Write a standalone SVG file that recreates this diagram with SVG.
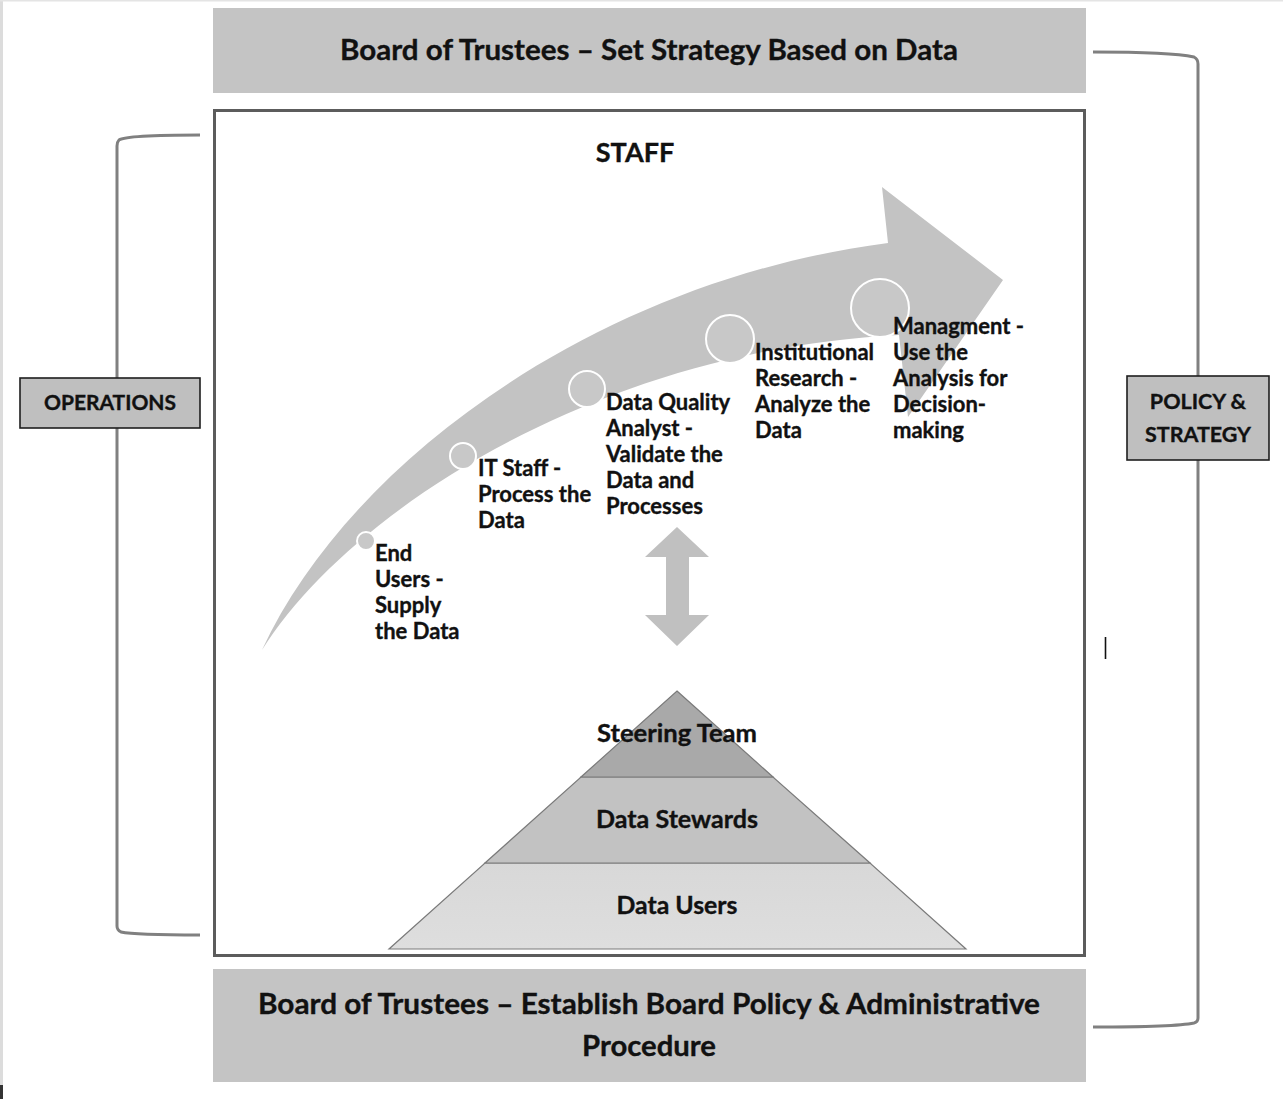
<svg xmlns="http://www.w3.org/2000/svg" width="1283" height="1099" viewBox="0 0 1283 1099">
<style>
  .t { font-family: Lato, "Open Sans", "Liberation Sans", sans-serif; font-weight: 700; fill: #111; stroke: #111; stroke-width: 0.35; }
  .band { fill: #c4c4c4; }
  .lbl { fill: #bfbfbf; stroke: #1e1e1e; stroke-width: 1.6; }
  .brk { fill: none; stroke: #808080; stroke-width: 3; }
  .dot { fill: #c8c8c8; stroke: #ffffff; stroke-width: 2; }
  .step { font-size: 22px; }
  .pyr { stroke: #7a7a7a; stroke-width: 1.2; }
</style>
<defs>
  <linearGradient id="gBase" x1="0" y1="0" x2="0" y2="1">
    <stop offset="0" stop-color="#d8d8d8"/>
    <stop offset="1" stop-color="#dedede"/>
  </linearGradient>
</defs>
<rect x="0" y="0" width="1283" height="1099" fill="#ffffff"/>
<rect x="0" y="0" width="3" height="1099" fill="#dcdcdc"/>
<rect x="0" y="0" width="1283" height="1.5" fill="#e4e4e4"/>
<rect x="0" y="1085" width="3" height="14" fill="#333333"/>

<g id="connectors">
  <path class="brk" d="M200,135 C160,135 125,136 119,140 Q117,142 117,146 L117,926 Q117,930 121,932 C130,934 160,935 200,935"/>
  <path class="brk" d="M1093,52 C1140,52 1180,54 1194,57 Q1198,59 1198,64 L1198,1018 Q1198,1022 1194,1023 C1180,1026 1140,1027 1093,1027"/>
</g>

<g id="board-top">
  <rect class="band" x="213" y="8" width="873" height="85"/>
  <text class="t" x="649" y="60" font-size="29" text-anchor="middle" textLength="618" lengthAdjust="spacingAndGlyphs">Board of Trustees – Set Strategy Based on Data</text>
</g>

<g id="staff">
  <rect x="214.5" y="110.5" width="870" height="845" fill="#ffffff" stroke="#5c5c5c" stroke-width="3"/>
  <text class="t" x="635" y="162" font-size="27" text-anchor="middle">STAFF</text>
</g>

<g id="curved-arrow">
  <path fill="#c3c3c3" d="M262,650 C350,460 600,280 888,243 L882,187 L1003,280 L908,417 L899,335 C600,350 350,510 262,650 Z"/>
  <circle class="dot" cx="366" cy="541" r="9"/>
  <circle class="dot" cx="463" cy="456" r="13"/>
  <circle class="dot" cx="587" cy="389" r="18"/>
  <circle class="dot" cx="730" cy="339" r="24"/>
  <circle class="dot" cx="880" cy="308" r="29"/>
</g>

<g id="step-end-users">
  <text class="t step"><tspan x="375" y="561">End</tspan><tspan x="375" y="587">Users -</tspan><tspan x="375" y="613">Supply</tspan><tspan x="375" y="639">the Data</tspan></text>
</g>
<g id="step-it-staff">
  <text class="t step"><tspan x="478" y="476">IT Staff -</tspan><tspan x="478" y="502">Process the</tspan><tspan x="478" y="528">Data</tspan></text>
</g>
<g id="step-dqa">
  <text class="t step"><tspan x="606" y="410">Data Quality</tspan><tspan x="606" y="436">Analyst -</tspan><tspan x="606" y="462">Validate the</tspan><tspan x="606" y="488">Data and</tspan><tspan x="606" y="514">Processes</tspan></text>
</g>
<g id="step-ir">
  <text class="t step"><tspan x="755" y="360">Institutional</tspan><tspan x="755" y="386">Research -</tspan><tspan x="755" y="412">Analyze the</tspan><tspan x="755" y="438">Data</tspan></text>
</g>
<g id="step-mgmt">
  <text class="t step"><tspan x="893" y="334">Managment -</tspan><tspan x="893" y="360">Use the</tspan><tspan x="893" y="386">Analysis for</tspan><tspan x="893" y="412">Decision-</tspan><tspan x="893" y="438">making</tspan></text>
</g>

<g id="double-arrow">
  <path fill="#c0c0c0" d="M677,527 L709,557 L689,557 L689,615 L709,615 L677,646 L645,615 L666,615 L666,557 L645,557 Z"/>
</g>

<g id="pyramid">
  <g id="data-users">
    <polygon class="pyr" fill="url(#gBase)" points="485,863 870,863 966,949 389,949"/>
    <text class="t" x="677" y="914" font-size="24" text-anchor="middle" textLength="121" lengthAdjust="spacingAndGlyphs">Data Users</text>
  </g>
  <g id="data-stewards">
    <polygon class="pyr" fill="#c2c2c2" points="581,777 773,777 870,863 485,863"/>
    <text class="t" x="677" y="828" font-size="24" text-anchor="middle" textLength="162" lengthAdjust="spacingAndGlyphs">Data Stewards</text>
  </g>
  <g id="steering-team">
    <polygon class="pyr" fill="#a9a9a9" points="677,691 773,777 581,777"/>
    <text class="t" x="677" y="742" font-size="24" text-anchor="middle" textLength="160" lengthAdjust="spacingAndGlyphs">Steering Team</text>
  </g>
</g>

<g id="board-bottom">
  <rect class="band" x="213" y="969" width="873" height="113"/>
  <text class="t" x="649" y="1014" font-size="29" text-anchor="middle" textLength="782" lengthAdjust="spacingAndGlyphs">Board of Trustees – Establish Board Policy &amp; Administrative</text>
  <text class="t" x="649" y="1056" font-size="29" text-anchor="middle" textLength="134" lengthAdjust="spacingAndGlyphs">Procedure</text>
</g>

<g id="operations">
  <rect class="lbl" x="20" y="378" width="180" height="50"/>
  <text class="t" x="110" y="410" font-size="21" text-anchor="middle">OPERATIONS</text>
</g>

<g id="policy-strategy">
  <rect class="lbl" x="1127" y="376" width="142" height="84"/>
  <text class="t" x="1198" y="409" font-size="21.5" text-anchor="middle">POLICY &amp;</text>
  <text class="t" x="1198" y="442" font-size="21.5" text-anchor="middle">STRATEGY</text>
</g>

<line x1="1105.5" y1="637" x2="1105.5" y2="659" stroke="#111" stroke-width="1.6"/>
</svg>
